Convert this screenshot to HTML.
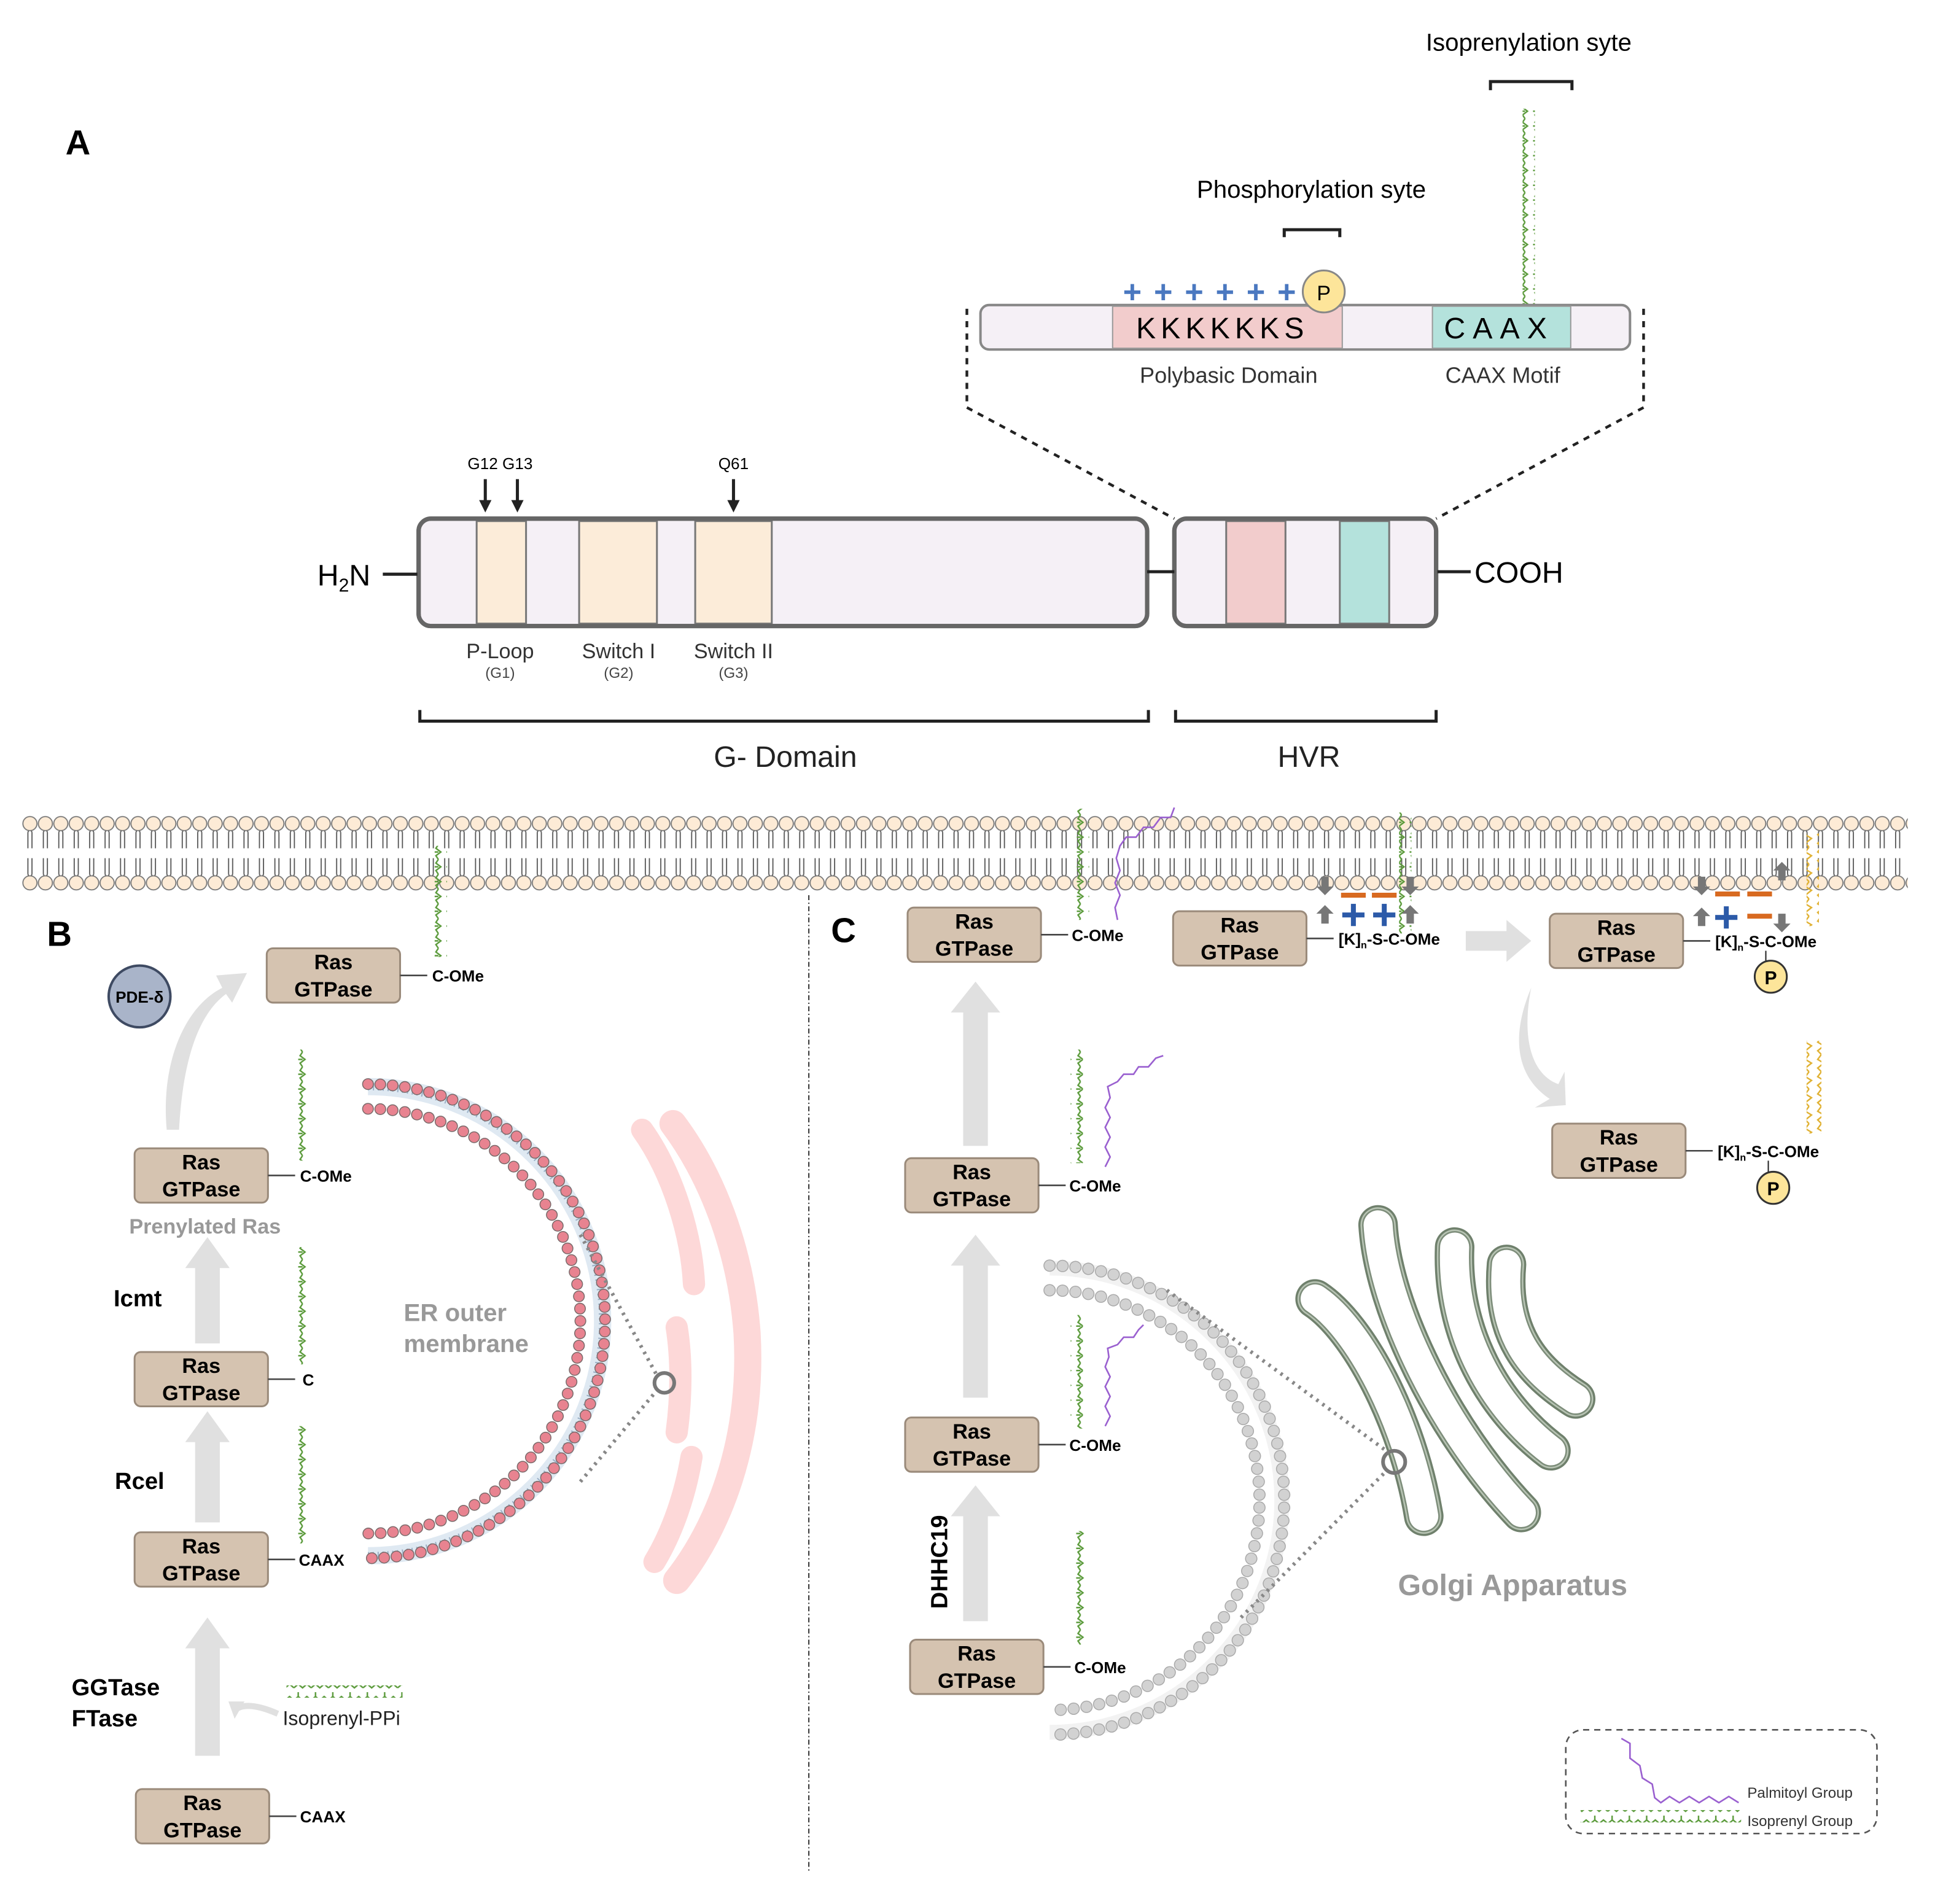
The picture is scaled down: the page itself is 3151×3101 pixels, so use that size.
<!DOCTYPE html>
<html><head><meta charset="utf-8"><style>html,body{margin:0;padding:0;background:#fff}svg{display:block}</style></head><body>
<svg xmlns="http://www.w3.org/2000/svg" width="3151" height="3101" viewBox="0 0 1567 1542" font-family="Liberation Sans, sans-serif">
<defs>
<pattern id="mem" x="18" y="660" width="12.5" height="62" patternUnits="userSpaceOnUse">
<line x1="4.6" y1="14" x2="4.6" y2="27" stroke="#555" stroke-width="0.9"/><line x1="7.9" y1="14" x2="7.9" y2="27" stroke="#555" stroke-width="0.9"/>
<path d="M4.6,14 Q6.25,10 7.9,14" fill="none" stroke="#555" stroke-width="0.9"/>
<line x1="4.6" y1="35" x2="4.6" y2="48" stroke="#555" stroke-width="0.9"/><line x1="7.9" y1="35" x2="7.9" y2="48" stroke="#555" stroke-width="0.9"/>
<path d="M4.6,48 Q6.25,52 7.9,48" fill="none" stroke="#555" stroke-width="0.9"/>
<circle cx="6.25" cy="7" r="5.7" fill="#fdebd6" stroke="#777" stroke-width="0.9"/>
<circle cx="6.25" cy="55" r="5.7" fill="#fdebd6" stroke="#777" stroke-width="0.9"/>
</pattern>
<pattern id="zv" x="0" y="0" width="10" height="12" patternUnits="userSpaceOnUse">
<path d="M5,0 L3,3 L7,6 L3,9 L5,12 M5,6 L1.5,6" fill="none" stroke="#5a9a3a" stroke-width="1.2"/>
</pattern>
<pattern id="zh" x="0" y="0" width="14" height="10" patternUnits="userSpaceOnUse">
<path d="M0,7 L3.5,4 L7,7 L10.5,4 L14,7 M3.5,4 L3.5,0.5" fill="none" stroke="#5a9a3a" stroke-width="1.2"/>
</pattern>
<pattern id="zy" x="0" y="0" width="10" height="14" patternUnits="userSpaceOnUse">
<path d="M5,0 L2,4 L7,7 L2,11 L5,14" fill="none" stroke="#e0b030" stroke-width="1.2"/>
</pattern>
<marker id="ah" viewBox="0 0 10 10" refX="5" refY="5" markerWidth="4" markerHeight="4" orient="auto"><path d="M0,0 L10,5 L0,10 z" fill="#222"/></marker>
</defs>
<rect width="1567" height="1542" fill="#fff"/>

<!-- PANEL A -->
<text x="53" y="125" font-size="28" font-weight="bold">A</text>
<text x="1238" y="41" font-size="20" text-anchor="middle">Isoprenylation syte</text>
<path d="M1207,73 V66 H1273 V73" fill="none" stroke="#222" stroke-width="2.5"/>
<rect x="1233" y="88" width="10" height="160" fill="url(#zv)"/>
<text x="1062" y="160" font-size="20" text-anchor="middle">Phosphorylation syte</text>
<path d="M1040,192 V186 H1085 V192" fill="none" stroke="#222" stroke-width="2.5"/>
<rect x="794" y="247" width="526" height="36" rx="7" fill="#f5f0f6" stroke="#888" stroke-width="2"/>
<rect x="901" y="248" width="186" height="34" fill="#f2cccc" stroke="#999" stroke-width="1"/>
<rect x="1160" y="248" width="112" height="34" fill="#b4e2dc" stroke="#999" stroke-width="1"/>
<text x="990" y="274" font-size="24" text-anchor="middle" letter-spacing="4">KKKKKKS</text>
<text x="1214" y="274" font-size="24" text-anchor="middle" letter-spacing="6">CAAX</text>
<g fill="#4a78c0" font-size="26" font-weight="bold" text-anchor="middle"><text x="917" y="245">+</text><text x="942" y="245">+</text><text x="967" y="245">+</text><text x="992" y="245">+</text><text x="1017" y="245">+</text><text x="1042" y="245">+</text></g>
<circle cx="1072" cy="236" r="17" fill="#fde59a" stroke="#888" stroke-width="1.5"/>
<text x="1072" y="243" font-size="17" text-anchor="middle">P</text>
<text x="995" y="310" font-size="18" text-anchor="middle" fill="#333">Polybasic Domain</text>
<text x="1217" y="310" font-size="18" text-anchor="middle" fill="#333">CAAX Motif</text>
<path d="M783,250 V330 L951,420 M1331,250 V330 L1163,420" fill="none" stroke="#222" stroke-width="2.2" stroke-dasharray="5,5"/>

<rect x="339" y="420" width="590" height="87" rx="10" fill="#f5f0f6" stroke="#666" stroke-width="3.5"/>
<rect x="386" y="422" width="40" height="83" fill="#fcecd9" stroke="#777" stroke-width="1.5"/>
<rect x="469" y="422" width="63" height="83" fill="#fcecd9" stroke="#777" stroke-width="1.5"/>
<rect x="563" y="422" width="62" height="83" fill="#fcecd9" stroke="#777" stroke-width="1.5"/>
<rect x="339" y="420" width="590" height="87" rx="10" fill="none" stroke="#666" stroke-width="3.5"/>
<rect x="951" y="420" width="212" height="87" rx="10" fill="#f5f0f6" stroke="#666" stroke-width="3.5"/>
<rect x="993" y="422" width="48" height="83" fill="#f2cccc" stroke="#777" stroke-width="1.5"/>
<rect x="1085" y="422" width="40" height="83" fill="#b4e2dc" stroke="#777" stroke-width="1.5"/>
<rect x="951" y="420" width="212" height="87" rx="10" fill="none" stroke="#666" stroke-width="3.5"/>
<path d="M929,463 H951 M310,465 H338 M1164,463 H1191" stroke="#222" stroke-width="2.5"/>
<text x="257" y="474" font-size="24">H<tspan font-size="15" dy="5">2</tspan><tspan dy="-5">N</tspan></text>
<text x="1194" y="472" font-size="24">COOH</text>
<text x="405" y="380" font-size="13" text-anchor="middle">G12 G13</text>
<text x="594" y="380" font-size="13" text-anchor="middle">Q61</text>
<line x1="393" y1="388" x2="393" y2="410" stroke="#222" stroke-width="2.5" marker-end="url(#ah)"/>
<line x1="419" y1="388" x2="419" y2="410" stroke="#222" stroke-width="2.5" marker-end="url(#ah)"/>
<line x1="594" y1="388" x2="594" y2="410" stroke="#222" stroke-width="2.5" marker-end="url(#ah)"/>
<g font-size="17" text-anchor="middle" fill="#333"><text x="405" y="533">P-Loop</text><text x="501" y="533">Switch I</text><text x="594" y="533">Switch II</text></g>
<g font-size="12" text-anchor="middle" fill="#444"><text x="405" y="549">(G1)</text><text x="501" y="549">(G2)</text><text x="594" y="549">(G3)</text></g>
<path d="M340,575 V584 H930 V575 M952,575 V584 H1163 V575" fill="none" stroke="#222" stroke-width="2.5"/>
<text x="636" y="621" font-size="24" text-anchor="middle" fill="#222">G- Domain</text>
<text x="1060" y="621" font-size="24" text-anchor="middle" fill="#222">HVR</text>

<!-- membrane -->
<rect x="18" y="660" width="1527" height="62" fill="url(#mem)"/>
<rect x="352" y="685" width="10" height="90" fill="url(#zv)"/>
<rect x="872" y="655" width="10" height="90" fill="url(#zv)"/>
<polyline points="905,745 903,735 907,725 903,715 907,705 904,695 907,685 912,678 920,678 926,670 934,670 940,662 948,662 951,654" fill="none" stroke="#9a60d0" stroke-width="1.3"/>
<rect x="1133" y="658" width="10" height="98" fill="url(#zv)"/>
<rect x="1463" y="675" width="10" height="75" fill="url(#zy)"/>
<g fill="#777"><path d="M1070,710 h6 v8 h4 l-7,7 l-7,-7 h4z"/><path d="M1070,748 h6 v-8 h4 l-7,-7 l-7,7 h4z"/><path d="M1139,748 h6 v-8 h4 l-7,-7 l-7,7 h4z"/><path d="M1139,710 h6 v8 h4 l-7,7 l-7,-7 h4z"/>
<path d="M1375,710 h6 v8 h4 l-7,7 l-7,-7 h4z"/><path d="M1375,750 h6 v-8 h4 l-7,-7 l-7,7 h4z"/><path d="M1440,713 h6 v-8 h4 l-7,-7 l-7,7 h4z"/><path d="M1440,740 h6 v8 h4 l-7,7 l-7,-7 h4z"/></g>
<g fill="#d86a20"><rect x="1086" y="723" width="20" height="4"/><rect x="1111" y="723" width="20" height="4"/><rect x="1389" y="722" width="20" height="4"/><rect x="1415" y="722" width="20" height="4"/><rect x="1415" y="740" width="20" height="4"/></g>
<g fill="#2c5aa8"><rect x="1087" y="739" width="18" height="4"/><rect x="1094" y="732" width="4" height="18"/><rect x="1112" y="739" width="18" height="4"/><rect x="1119" y="732" width="4" height="18"/><rect x="1389" y="741" width="18" height="4"/><rect x="1396" y="734" width="4" height="18"/></g>

<!-- PANEL B -->
<!-- ER -->
<path d="M545,910 C575,950 600,1010 605,1080 C610,1170 580,1240 548,1280" fill="none" stroke="#fdd8d8" stroke-width="22" stroke-linecap="round"/>
<path d="M520,915 C545,950 560,1000 562,1040 M548,1075 C552,1100 552,1130 548,1160 M560,1180 C555,1210 545,1240 530,1265" fill="none" stroke="#fdd8d8" stroke-width="18" stroke-linecap="round"/>
<path d="M298,880 A190,190 0 0 1 298,1260" fill="none" stroke="#dfe9f2" stroke-width="14"/>
<path d="M298,880 A190,190 0 0 1 298,1260" fill="none" stroke="#9bb0c6" stroke-width="6" stroke-dasharray="1,3"/>
<path d="M298,878 A192,192 0 0 1 298,1262" fill="none" stroke="#7a6a6a" stroke-width="9.5" stroke-dasharray="0,10" stroke-linecap="round"/>
<path d="M298,878 A192,192 0 0 1 298,1262" fill="none" stroke="#e88390" stroke-width="8" stroke-dasharray="0,10" stroke-linecap="round"/>
<path d="M298,898 A172,172 0 0 1 298,1242" fill="none" stroke="#7a6a6a" stroke-width="9.5" stroke-dasharray="0,10" stroke-linecap="round"/>
<path d="M298,898 A172,172 0 0 1 298,1242" fill="none" stroke="#e88390" stroke-width="8" stroke-dasharray="0,10" stroke-linecap="round"/>
<path d="M470,1000 L532,1114 M470,1200 L532,1126" stroke="#888" stroke-width="3" stroke-dasharray="2,4"/>
<circle cx="538" cy="1120" r="8" fill="none" stroke="#777" stroke-width="3"/>
<text x="327" y="1070" font-size="20" font-weight="bold" fill="#999">ER outer</text>
<text x="327" y="1095" font-size="20" font-weight="bold" fill="#999">membrane</text>

<text x="38" y="766" font-size="28" font-weight="bold">B</text>
<line x1="655" y1="725" x2="655" y2="1517" stroke="#333" stroke-width="1" stroke-dasharray="4,2,1,2"/>
<circle cx="113" cy="807" r="25" fill="#a9b4c9" stroke="#3e4a62" stroke-width="2"/>
<text x="113" y="812" font-size="13" font-weight="bold" text-anchor="middle">PDE-δ</text>
<path d="M135,915 C130,860 150,815 180,800 L175,790 L200,788 L188,812 L183,805 C160,822 148,860 145,915 Z" fill="#e0e0e0"/>
<g fill="#e0e0e0">
<path d="M158,1422 V1335 H150 L168,1310 L186,1335 H178 V1422Z"/>
<path d="M158,1233 V1168 H150 L168,1143 L186,1168 H178 V1233Z"/>
<path d="M158,1088 V1027 H150 L168,1002 L186,1027 H178 V1088Z"/>
</g>
<path d="M225,1388 Q200,1377 190,1385" fill="none" stroke="#e0e0e0" stroke-width="5"/>
<path d="M185,1378 L198,1378 L190,1392Z" fill="#e0e0e0"/>
<g font-weight="bold" font-size="17">
<rect x="216" y="768" width="108" height="44" rx="5" fill="#d5c3b0" stroke="#9a8a7a" stroke-width="1.5"/><text x="270" y="785" text-anchor="middle">Ras</text><text x="270" y="807" text-anchor="middle">GTPase</text>
<rect x="109" y="930" width="108" height="44" rx="5" fill="#d5c3b0" stroke="#9a8a7a" stroke-width="1.5"/><text x="163" y="947" text-anchor="middle">Ras</text><text x="163" y="969" text-anchor="middle">GTPase</text>
<rect x="109" y="1095" width="108" height="44" rx="5" fill="#d5c3b0" stroke="#9a8a7a" stroke-width="1.5"/><text x="163" y="1112" text-anchor="middle">Ras</text><text x="163" y="1134" text-anchor="middle">GTPase</text>
<rect x="109" y="1241" width="108" height="44" rx="5" fill="#d5c3b0" stroke="#9a8a7a" stroke-width="1.5"/><text x="163" y="1258" text-anchor="middle">Ras</text><text x="163" y="1280" text-anchor="middle">GTPase</text>
<rect x="110" y="1449" width="108" height="44" rx="5" fill="#d5c3b0" stroke="#9a8a7a" stroke-width="1.5"/><text x="164" y="1466" text-anchor="middle">Ras</text><text x="164" y="1488" text-anchor="middle">GTPase</text>
</g>
<g stroke="#444" stroke-width="1.3"><path d="M324,790 H346 M217,952 H239 M217,1117 H239 M217,1263 H239 M218,1471 H240"/></g>
<g font-weight="bold" font-size="13"><text x="350" y="795">C-OMe</text><text x="243" y="957">C-OMe</text><text x="245" y="1122">C</text><text x="242" y="1268">CAAX</text><text x="243" y="1476">CAAX</text></g>
<rect x="238" y="850" width="10" height="90" fill="url(#zv)"/>
<rect x="238" y="1010" width="10" height="95" fill="url(#zv)"/>
<rect x="238" y="1155" width="10" height="95" fill="url(#zv)"/>
<rect x="232" y="1365" width="94" height="10" fill="url(#zh)"/>
<text x="229" y="1397" font-size="16" fill="#222">Isoprenyl-PPi</text>
<text x="166" y="999" font-size="17" font-weight="bold" text-anchor="middle" fill="#999">Prenylated Ras</text>
<g font-weight="bold" font-size="19"><text x="92" y="1058">Icmt</text><text x="93" y="1206">Rcel</text><text x="58" y="1373">GGTase</text><text x="58" y="1398">FTase</text></g>

<!-- PANEL C -->
<text x="673" y="763" font-size="28" font-weight="bold">C</text>
<g fill="#e0e0e0">
<path d="M780,928 V820 H770 L790,795 L810,820 H800 V928Z"/>
<path d="M780,1132 V1025 H770 L790,1000 L810,1025 H800 V1132Z"/>
<path d="M780,1313 V1228 H770 L790,1203 L810,1228 H800 V1313Z"/>
<path d="M1187,754 H1220 V745 L1240,762 L1220,779 V770 H1187Z"/>
<path d="M1255,890 C1225,870 1225,835 1240,800 C1232,840 1240,870 1262,878 L1267,868 L1268,895 L1243,897Z"/>
</g>
<text transform="translate(767,1265) rotate(-90)" font-size="19" font-weight="bold" text-anchor="middle">DHHC19</text>
<!-- golgi membrane arc -->
<path d="M850,1027 A188,188 0 0 1 850,1403" fill="none" stroke="#f2f2f2" stroke-width="12"/>
<path d="M850,1025 A190,190 0 0 1 850,1405" fill="none" stroke="#aaa" stroke-width="10" stroke-dasharray="0,10.5" stroke-linecap="round"/>
<path d="M850,1025 A190,190 0 0 1 850,1405" fill="none" stroke="#d2d2d2" stroke-width="8.5" stroke-dasharray="0,10.5" stroke-linecap="round"/>
<path d="M850,1045 A170,170 0 0 1 850,1385" fill="none" stroke="#aaa" stroke-width="10" stroke-dasharray="0,10.5" stroke-linecap="round"/>
<path d="M850,1045 A170,170 0 0 1 850,1385" fill="none" stroke="#d2d2d2" stroke-width="8.5" stroke-dasharray="0,10.5" stroke-linecap="round"/>
<g font-weight="bold" font-size="17">
<rect x="735" y="735" width="108" height="44" rx="5" fill="#d5c3b0" stroke="#9a8a7a" stroke-width="1.5"/><text x="789" y="752" text-anchor="middle">Ras</text><text x="789" y="774" text-anchor="middle">GTPase</text>
<rect x="950" y="738" width="108" height="44" rx="5" fill="#d5c3b0" stroke="#9a8a7a" stroke-width="1.5"/><text x="1004" y="755" text-anchor="middle">Ras</text><text x="1004" y="777" text-anchor="middle">GTPase</text>
<rect x="1255" y="740" width="108" height="44" rx="5" fill="#d5c3b0" stroke="#9a8a7a" stroke-width="1.5"/><text x="1309" y="757" text-anchor="middle">Ras</text><text x="1309" y="779" text-anchor="middle">GTPase</text>
<rect x="1257" y="910" width="108" height="44" rx="5" fill="#d5c3b0" stroke="#9a8a7a" stroke-width="1.5"/><text x="1311" y="927" text-anchor="middle">Ras</text><text x="1311" y="949" text-anchor="middle">GTPase</text>
<rect x="733" y="938" width="108" height="44" rx="5" fill="#d5c3b0" stroke="#9a8a7a" stroke-width="1.5"/><text x="787" y="955" text-anchor="middle">Ras</text><text x="787" y="977" text-anchor="middle">GTPase</text>
<rect x="733" y="1148" width="108" height="44" rx="5" fill="#d5c3b0" stroke="#9a8a7a" stroke-width="1.5"/><text x="787" y="1165" text-anchor="middle">Ras</text><text x="787" y="1187" text-anchor="middle">GTPase</text>
<rect x="737" y="1328" width="108" height="44" rx="5" fill="#d5c3b0" stroke="#9a8a7a" stroke-width="1.5"/><text x="791" y="1345" text-anchor="middle">Ras</text><text x="791" y="1367" text-anchor="middle">GTPase</text>
</g>
<g stroke="#444" stroke-width="1.3"><path d="M843,757 H865 M1058,760 H1080 M1363,762 H1385 M1365,932 H1387 M841,960 H863 M841,1170 H863 M845,1350 H867"/></g>
<g font-weight="bold" font-size="13">
<text x="868" y="762">C-OMe</text><text x="866" y="965">C-OMe</text><text x="866" y="1175">C-OMe</text><text x="870" y="1355">C-OMe</text>
<text x="1084" y="765">[K]<tspan font-size="8" dy="3">n</tspan><tspan dy="-3">-S-C-OMe</tspan></text>
<text x="1389" y="767">[K]<tspan font-size="8" dy="3">n</tspan><tspan dy="-3">-S-C-OMe</tspan></text>
<text x="1391" y="937">[K]<tspan font-size="8" dy="3">n</tspan><tspan dy="-3">-S-C-OMe</tspan></text>
</g>
<path d="M1430,770 V780 M1432,940 V950" stroke="#222" stroke-width="1"/>
<circle cx="1434" cy="791" r="13" fill="#fde59a" stroke="#333" stroke-width="1.5"/><text x="1434" y="797" font-size="15" font-weight="bold" text-anchor="middle">P</text>
<circle cx="1436" cy="962" r="13" fill="#fde59a" stroke="#333" stroke-width="1.5"/><text x="1436" y="968" font-size="15" font-weight="bold" text-anchor="middle">P</text>
<rect x="1463" y="843" width="12" height="75" fill="url(#zy)"/>
<rect x="867" y="850" width="10" height="92" fill="url(#zv)"/>
<polyline points="895,945 899,937 895,929 899,921 895,913 899,905 895,897 899,889 897,880 905,876 910,870 918,870 922,864 930,864 936,857 942,855" fill="none" stroke="#9a60d0" stroke-width="1.3"/>
<rect x="867" y="1065" width="10" height="92" fill="url(#zv)"/>
<polyline points="895,1155 899,1147 895,1139 899,1131 895,1123 899,1115 895,1107 898,1099 897,1092 905,1089 910,1083 918,1083 922,1077 926,1073" fill="none" stroke="#9a60d0" stroke-width="1.3"/>
<rect x="868" y="1240" width="10" height="92" fill="url(#zv)"/>
<path d="M945,1045 L1124,1176 M1005,1310 L1124,1190" stroke="#888" stroke-width="3" stroke-dasharray="2,4"/>
<!-- golgi cisternae -->
<g fill="none" stroke-linecap="round">
<g stroke="#6f806c" stroke-width="32"><path d="M1065,1052 C1100,1075 1140,1150 1153,1228"/><path d="M1116,992 C1120,1060 1170,1160 1232,1225"/><path d="M1178,1010 C1175,1080 1210,1140 1256,1175"/><path d="M1220,1024 C1215,1080 1240,1110 1276,1133"/></g>
<g stroke="#b8c4b4" stroke-width="28.5"><path d="M1065,1052 C1100,1075 1140,1150 1153,1228"/><path d="M1116,992 C1120,1060 1170,1160 1232,1225"/><path d="M1178,1010 C1175,1080 1210,1140 1256,1175"/><path d="M1220,1024 C1215,1080 1240,1110 1276,1133"/></g>
<g stroke="#7d8d7a" stroke-width="26"><path d="M1065,1052 C1100,1075 1140,1150 1153,1228"/><path d="M1116,992 C1120,1060 1170,1160 1232,1225"/><path d="M1178,1010 C1175,1080 1210,1140 1256,1175"/><path d="M1220,1024 C1215,1080 1240,1110 1276,1133"/></g>
<g stroke="#fff" stroke-width="23.5"><path d="M1065,1052 C1100,1075 1140,1150 1153,1228"/><path d="M1116,992 C1120,1060 1170,1160 1232,1225"/><path d="M1178,1010 C1175,1080 1210,1140 1256,1175"/><path d="M1220,1024 C1215,1080 1240,1110 1276,1133"/></g>
</g>
<circle cx="1129" cy="1184" r="9" fill="none" stroke="#777" stroke-width="3"/>
<text x="1225" y="1292" font-size="24" font-weight="bold" text-anchor="middle" fill="#999">Golgi Apparatus</text>
<!-- legend -->
<rect x="1268" y="1401" width="252" height="84" rx="14" fill="none" stroke="#555" stroke-width="1.3" stroke-dasharray="5,4"/>
<polyline points="1313,1408 1320,1412 1320,1424 1328,1430 1330,1440 1338,1445 1340,1456 1345,1460 1352,1455 1360,1460 1368,1455 1376,1460 1384,1455 1392,1460 1400,1455 1408,1460" fill="none" stroke="#9a60d0" stroke-width="1.3"/>
<rect x="1280" y="1466" width="130" height="10" fill="url(#zh)"/>
<text x="1415" y="1456" font-size="12" fill="#333">Palmitoyl Group</text>
<text x="1415" y="1479" font-size="12" fill="#333">Isoprenyl Group</text>
</svg>
</body></html>
